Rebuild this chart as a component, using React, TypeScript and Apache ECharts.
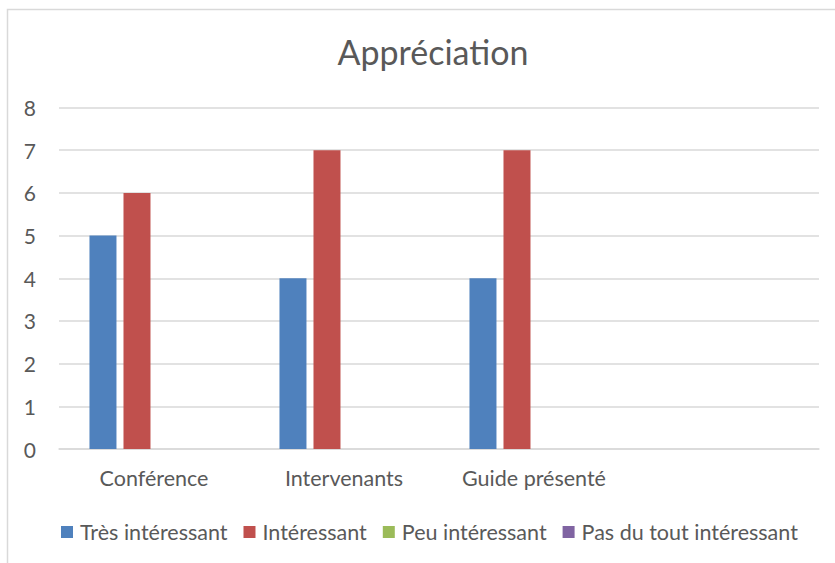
import React, { useEffect, useRef } from "react";
import * as echarts from "echarts";

const categories = ["Conférence", "Intervenants", "Guide présenté", ""];
const seriesNames = ["Très intéressant", "Intéressant", "Peu intéressant", "Pas du tout intéressant"];
const tresInteressant = [5, 4, 4, null];
const interessant = [6, 7, 7, null];
const peuInteressant = [0, 0, 0, null];
const pasDuTout = [0, 0, 0, null];
const colors = ["#4f81bd", "#c0504d", "#9bbb59", "#8064a2"];

export default function App() {
  const ref = useRef<HTMLDivElement>(null);
  useEffect(() => {
    if (!ref.current) return;
    const chart = echarts.init(ref.current, null, { renderer: "svg" });
    const font = "Lato, 'Open Sans', sans-serif";
    const values = [tresInteressant, interessant, peuInteressant, pasDuTout];
    chart.setOption({
      animation: false,
      backgroundColor: "#ffffff",
      color: colors,
      title: {
        text: "Appréciation",
        left: 428,
        textAlign: "center",
        top: 29,
        textStyle: { fontFamily: font, fontSize: 34, fontWeight: "normal", color: "#595959" },
      },
      legend: {
        data: seriesNames,
        left: 61,
        top: 521,
        padding: 0,
        icon: "rect",
        itemWidth: 12,
        itemHeight: 12,
        itemGap: 16,
        textStyle: { fontFamily: font, fontSize: 21.5, color: "#595959", padding: [0, 0, 0, 2] },
      },
      grid: { left: 59, right: 16, top: 107.5, bottom: 114, containLabel: false },
      xAxis: {
        type: "category",
        data: categories,
        axisLine: { show: true, lineStyle: { color: "#d9d9d9", width: 1.5 } },
        axisTick: { show: false },
        axisLabel: { fontFamily: font, fontSize: 21.5, color: "#595959", margin: 18, interval: 0 },
      },
      yAxis: {
        type: "value",
        min: 0,
        max: 8,
        interval: 1,
        axisLine: { show: false },
        axisTick: { show: false },
        splitLine: { lineStyle: { color: "#d9d9d9", width: 1.5 } },
        axisLabel: { fontFamily: font, fontSize: 21, color: "#595959", margin: 23 },
      },
      series: seriesNames.map((name, i) => ({
        name,
        type: "bar",
        data: values[i],
        barWidth: 27,
        barGap: "26%",
        itemStyle: { color: colors[i] },
      })),
      graphic: [
        {
          type: "rect",
          shape: { x: 7.5, y: 9.5, width: 1000, height: 1000 },
          style: { fill: "none", stroke: "#d9d9d9", lineWidth: 1.5 },
          silent: true,
          z: 100,
        },
      ],
    });
    return () => chart.dispose();
  }, []);
  return (
    <div
      ref={ref}
      style={{ position: "fixed", left: 0, top: 0, width: 835, height: 563 }}
    />
  );
}
